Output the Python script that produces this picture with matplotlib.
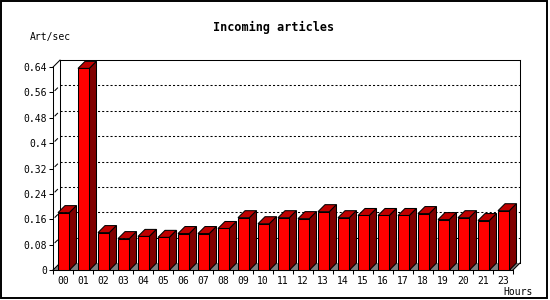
import matplotlib.pyplot as plt
from matplotlib.patches import Polygon, Rectangle
import numpy as np

plt.rcParams['font.family'] = 'DejaVu Sans Mono'

hours = ['00', '01', '02', '03', '04', '05', '06', '07', '08', '09', '10', '11',
         '12', '13', '14', '15', '16', '17', '18', '19', '20', '21', '23']
rates = [0.181, 0.636, 0.118, 0.099, 0.106, 0.103, 0.115, 0.115, 0.131, 0.165, 0.146,
         0.165, 0.162, 0.184, 0.165, 0.172, 0.172, 0.172, 0.178, 0.159, 0.165, 0.156, 0.187]
yticks = [0, 0.08, 0.16, 0.24, 0.32, 0.4, 0.48, 0.56, 0.64]
ytick_labels = ['0', '0.08', '0.16', '0.24', '0.32', '0.4', '0.48', '0.56', '0.64']

FRONT = '#ff0000'
TOP = '#c00000'
SIDE = '#800000'
FLOOR = '#808080'
LW = 0.75  # ~1 px

n = len(rates)
ymax_tick = yticks[-1]

# pixel layout: one bar slot = 20 px, 317 px per unit, 3d depth 7 px
SLOT_PX = 20.0
UNIT_PX = 317.0
DEPTH_PX = 7.0
dx = DEPTH_PX / SLOT_PX
dy = DEPTH_PX / UNIT_PX
bar_l = 5.0 / SLOT_PX
bar_w = 11.5 / SLOT_PX

fig = plt.figure(figsize=(5.5, 3), dpi=100)
ax_w = n * SLOT_PX + DEPTH_PX
ax_h = ymax_tick * UNIT_PX + DEPTH_PX + 0.5
ax = fig.add_axes([53 / 550, 30 / 300, ax_w / 550, ax_h / 300])
ax.set_xlim(0, n + dx)
ax.set_ylim(0, ax_h / UNIT_PX)
ax.patch.set_visible(False)

for s in ['top', 'right']:
    ax.spines[s].set_visible(False)
ax.spines['left'].set_bounds(0, ymax_tick)
ax.spines['bottom'].set_bounds(0, n)
ax.spines['left'].set_linewidth(LW)
ax.spines['bottom'].set_linewidth(LW)

ax.set_yticks(yticks)
ax.set_yticklabels(ytick_labels)
ax.tick_params(axis='y', direction='out', length=3, width=LW, pad=1.5, labelsize=7)
ax.set_xticks(np.arange(n + 1))
ax.set_xticklabels([''] * (n + 1))
ax.set_xticks(np.arange(n) + 0.5, minor=True)
ax.set_xticklabels(hours, minor=True)
ax.tick_params(axis='x', which='major', direction='out', length=3, width=LW)
ax.tick_params(axis='x', which='minor', length=0, pad=4, labelsize=7)

# floor
ax.add_patch(Polygon([(0, 0), (n, 0), (n + dx, dy), (dx, dy)], closed=True,
                     facecolor=FLOOR, edgecolor='none', zorder=1, clip_on=False))

# back frame
top = ymax_tick + dy
frame = dict(color='black', lw=LW, zorder=2, clip_on=False)
ax.plot([dx, dx], [dy, top], **frame)
ax.plot([dx, n + dx], [top, top], **frame)
ax.plot([n + dx, n + dx], [dy, top], **frame)
ax.plot([0, dx], [ymax_tick, top], **frame)
ax.plot([0, dx], [0, dy], **frame)
ax.plot([n, n + dx], [0, dy], **frame)

# dotted grid on the back wall + small depth marks
for v in yticks[1:-1]:
    ax.plot([dx, n + dx], [v + dy, v + dy], color='black', lw=LW,
            linestyle=(0, (2, 2)), zorder=2, clip_on=False)
    ax.plot([2 / SLOT_PX, 4.5 / SLOT_PX], [v + 2 / UNIT_PX, v + 4.5 / UNIT_PX],
            color='black', lw=LW, zorder=2, clip_on=False)

# 3d bars
for i, v in enumerate(rates):
    x0 = i + bar_l
    x1 = x0 + bar_w
    front = [(x0, 0), (x1, 0), (x1, v), (x0, v)]
    topf = [(x0, v), (x1, v), (x1 + dx, v + dy), (x0 + dx, v + dy)]
    side = [(x1, 0), (x1 + dx, dy), (x1 + dx, v + dy), (x1, v)]
    for pts, c in [(front, FRONT), (topf, TOP), (side, SIDE)]:
        ax.add_patch(Polygon(pts, closed=True, facecolor=c, edgecolor='black',
                             lw=LW, zorder=3, clip_on=False))

fig.text(274 / 550, 1 - 27 / 300, 'Incoming articles', ha='center', va='center',
         fontsize=8.5, fontweight='bold')
fig.text(30 / 550, 1 - 37 / 300, 'Art/sec', ha='left', va='center', fontsize=7)
fig.text(533 / 550, 1 - 292 / 300, 'Hours', ha='right', va='center', fontsize=7)

fig.add_artist(Rectangle((1 / 550, 2.5 / 300), 546 / 550, 297 / 300,
                         transform=fig.transFigure, fill=False,
                         edgecolor='black', lw=1.4))

fig.savefig('out.png', dpi=100)
